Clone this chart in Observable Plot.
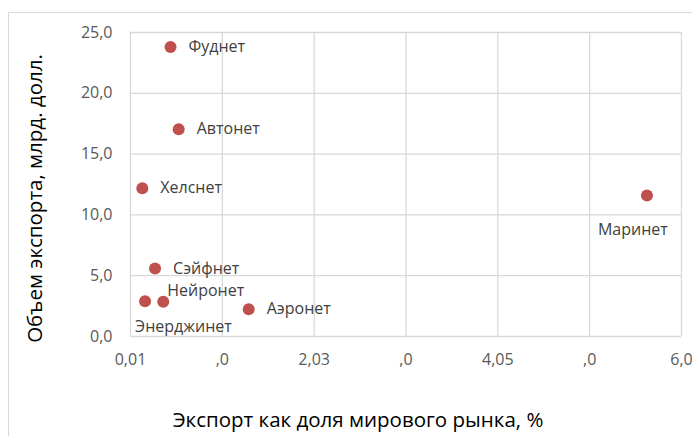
<!DOCTYPE html>
<html><head><meta charset="utf-8">
<script src="https://cdn.jsdelivr.net/npm/d3@7"></script>
<script src="https://cdn.jsdelivr.net/npm/@observablehq/plot@0.6"></script>
<style>
body{margin:0;overflow:hidden;background:#fff;width:692px;height:436px;position:relative}
#box{position:absolute;left:8px;top:12px;width:720px;height:460px;border:1px solid #d9d9d9}
#chart{position:absolute;left:0;top:0}
</style>
</head><body><div id="box"></div><div id="chart"></div>
<script>
const names = ["Фуднет","Автонет","Хелснет","Маринет","Сэйфнет","Энерджинет","Нейронет","Аэронет"];
const share = [0.45,0.54,0.14,5.69,0.28,0.17,0.37,1.31];
const exportVol = [23.8,17.05,12.2,11.6,5.6,2.9,2.85,2.25];
const xTicks = [0.01,1.02,2.03,3.04,4.05,5.06,6.07];
const xTickLabels = ["0,01",",0","2,03",",0","4,05",",0","6,0"];
const yTicks = [0,5,10,15,20,25];
const xTitle = "Экспорт как доля мирового рынка, %";
const yTitle = "Объем экспорта, млрд. долл.";

const data = names.map((n,i)=>({name:n,x:share[i],y:exportVol[i]}));
const place = {"Маринет":"below","Энерджинет":"under","Нейронет":"above"};
const right = data.filter(d=>!place[d.name]);
const pick = k => data.filter(d=>place[d.name]===k);
const font = "'Open Sans', sans-serif";
const lbl = {fontSize:16, fill:"#404040", fontFamily:font, textAnchor:"start"};

const chart = Plot.plot({
  width:692, height:436,
  marginLeft:130, marginRight:11, marginTop:32, marginBottom:100,
  style:{fontFamily:font, background:"transparent"},
  x:{domain:[0.01,6.07]},
  y:{domain:[0,25]},
  marks:[
    Plot.gridX(xTicks,{stroke:"#d9d9d9",strokeOpacity:1,strokeWidth:1.3}),
    Plot.gridY(yTicks,{stroke:"#d9d9d9",strokeOpacity:1,strokeWidth:1.3}),
    Plot.axisY(yTicks,{tickSize:0,tickPadding:18,fontSize:16,fill:"#595959",
      tickFormat:d=>d.toFixed(1).replace(".",","),label:null}),
    Plot.axisX(xTicks,{tickSize:0,tickPadding:17,fontSize:16,fill:"#595959",
      tickFormat:(d,i)=>xTickLabels[i],label:null}),
    Plot.text([xTitle],{frameAnchor:"bottom",textAnchor:"middle",text:d=>d,dx:-48,dy:90,fontSize:20.5,fill:"#000",fontFamily:font}),
    Plot.text([yTitle],{frameAnchor:"left",textAnchor:"middle",text:d=>d,rotate:-90,dx:-95,dy:14,fontSize:20.5,fill:"#000",fontFamily:font}),
    Plot.dot(data,{x:"x",y:"y",r:6,fill:"#c0504d",stroke:"none"}),
    Plot.text(right,{x:"x",y:"y",text:"name",dx:18,...lbl}),
    Plot.text(pick("below"),{x:"x",y:"y",text:"name",dx:-49,dy:34,...lbl}),
    Plot.text(pick("under"),{x:"x",y:"y",text:"name",dx:-10,dy:26,...lbl}),
    Plot.text(pick("above"),{x:"x",y:"y",text:"name",dx:4,dy:-11,...lbl})
  ]
});
document.getElementById("chart").appendChild(chart);
</script>
</body></html>
